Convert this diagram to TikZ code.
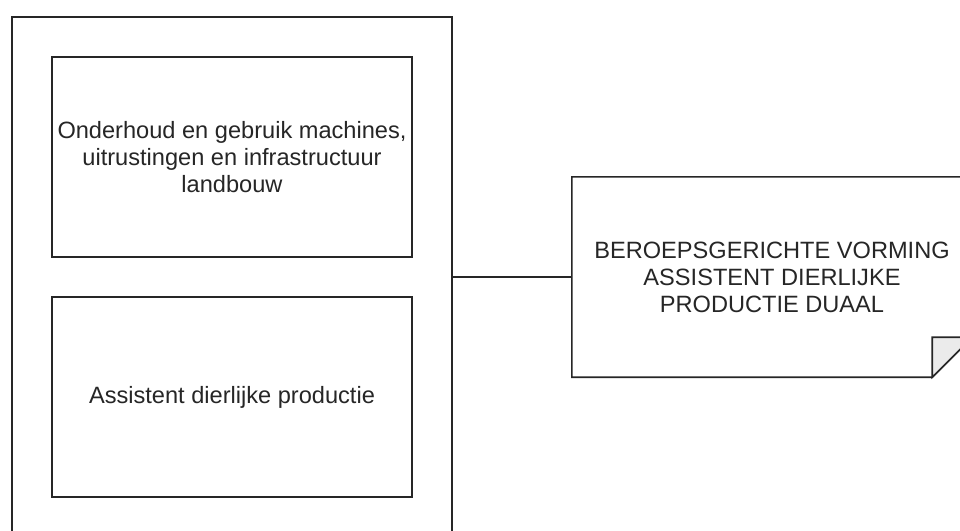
\documentclass[tikz,border=0pt]{standalone}
\usepackage{fontspec}
\setmainfont{Liberation Sans}
\begin{document}
\begin{tikzpicture}[x=1pt,y=-1pt,
  line/.style={draw=black!85, line width=1.6pt},
  txt/.style={align=center, font=\fontsize{23.6}{27}\selectfont, text=black!85, inner sep=0pt},
  frame/.style={line, minimum width=440pt, minimum height=520pt, inner sep=0pt},
  box/.style={line, txt, minimum width=360pt, minimum height=200pt},
  notebody/.style={txt, minimum width=400pt, minimum height=200pt}]
\useasboundingbox (0,0) rectangle (960,530);
\clip (0,0) rectangle (960,530);
\fill[white] (0,0) rectangle (960,530);
\node[frame] (outer) at (232,277) {};
\node[box] (b1) at (232,157) {Onderhoud en gebruik machines,\\uitrustingen en infrastructuur\\landbouw};
\node[box] (b2) at (232,397) {Assistent dierlijke productie};
\node[notebody] (note) at (772,277) {};
\draw[line, fill=white] (note.north west) -- (note.north east) -- ([yshift=40pt]note.south east) -- ([xshift=-40pt]note.south east) -- (note.south west) -- cycle;
\node[txt] (notetext) at (note.center) {BEROEPSGERICHTE VORMING\\ASSISTENT DIERLIJKE\\PRODUCTIE DUAAL};
\draw[line, fill=black!8] ([xshift=-40pt]note.south east) -- ([xshift=-40pt,yshift=40pt]note.south east) -- ([yshift=40pt]note.south east) -- cycle;
\draw[line] (outer.east) -- (note.west);
\end{tikzpicture}
\end{document}
